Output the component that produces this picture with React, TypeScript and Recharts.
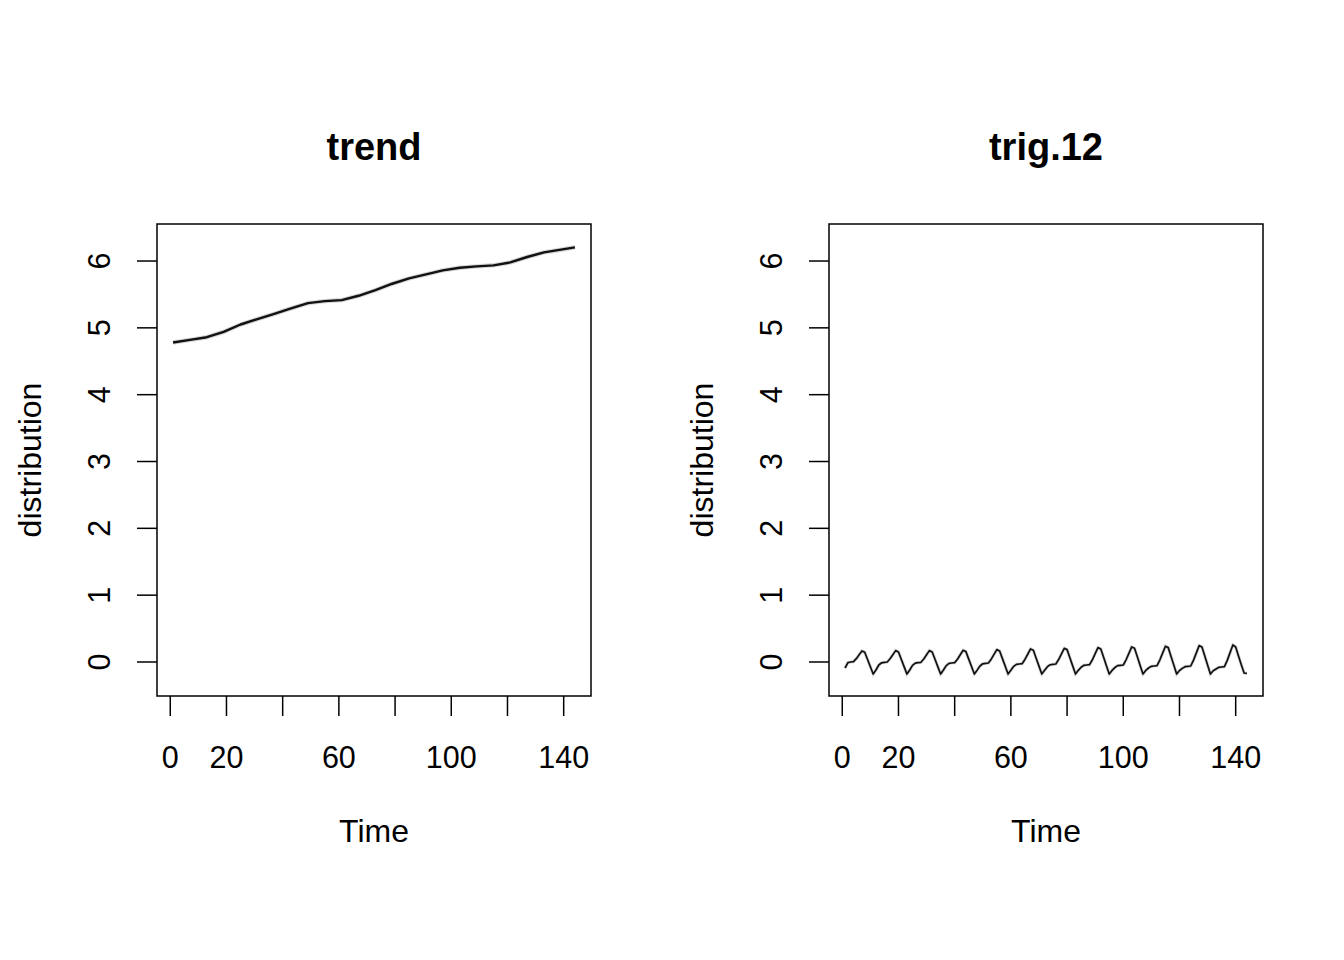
import React from 'react';
import { LineChart, Line, XAxis, YAxis, ReferenceArea } from 'recharts';

const FONT = '"Liberation Sans", Arial, Helvetica, sans-serif';

// Tick values / labels
const xTicks = [0, 20, 40, 60, 80, 100, 120, 140];
const xLabelShown = [0, 20, 60, 100, 140];
const yTicks = [0, 1, 2, 3, 4, 5, 6];
const panelTitles = ['trend', 'trig.12'];
const xTitle = 'Time';
const yTitle = 'distribution';

// Trend component
const trendTime = [1, 7, 13, 19, 25, 31, 37, 43, 49, 55, 61, 67, 73, 79, 85, 91, 97, 103, 109, 115, 121, 127, 133, 139, 144];
const trendValues = [4.78, 4.82, 4.86, 4.94, 5.05, 5.13, 5.21, 5.29, 5.37, 5.4, 5.415, 5.48, 5.565, 5.66, 5.74, 5.8, 5.86, 5.9, 5.92, 5.935, 5.98, 6.06, 6.13, 6.17, 6.205];

// Seasonal trig.12 component, months 1..144 (one row per year)
const trig12 = [
  -0.09, -0.01, 0.0, 0.005, 0.05, 0.107, 0.165, 0.145, 0.037, -0.072, -0.18, -0.12,
  -0.045, -0.012, -0.005, 0.0, 0.048, 0.109, 0.17, 0.15, 0.04, -0.07, -0.18, -0.12,
  -0.05, -0.017, -0.01, -0.005, 0.044, 0.107, 0.17, 0.15, 0.04, -0.07, -0.18, -0.12,
  -0.055, -0.022, -0.015, -0.01, 0.042, 0.109, 0.175, 0.155, 0.043, -0.068, -0.18, -0.122,
  -0.06, -0.027, -0.02, -0.015, 0.042, 0.113, 0.185, 0.165, 0.05, -0.065, -0.18, -0.123,
  -0.065, -0.036, -0.03, -0.025, 0.038, 0.116, 0.195, 0.175, 0.057, -0.062, -0.18, -0.124,
  -0.07, -0.041, -0.035, -0.03, 0.037, 0.121, 0.205, 0.185, 0.063, -0.058, -0.18, -0.125,
  -0.078, -0.05, -0.045, -0.04, 0.033, 0.124, 0.215, 0.195, 0.07, -0.055, -0.18, -0.126,
  -0.083, -0.055, -0.05, -0.045, 0.033, 0.129, 0.225, 0.205, 0.077, -0.052, -0.18, -0.127,
  -0.09, -0.065, -0.06, -0.055, 0.029, 0.132, 0.235, 0.215, 0.083, -0.048, -0.18, -0.128,
  -0.096, -0.07, -0.065, -0.06, 0.028, 0.137, 0.245, 0.225, 0.09, -0.045, -0.18, -0.13,
  -0.105, -0.08, -0.075, -0.07, 0.024, 0.14, 0.255, 0.225, 0.09, -0.04, -0.165, -0.17,
];

const trendData = trendTime.map((t, i) => ({ t, v: trendValues[i] }));
const trigData = trig12.map((v, i) => ({ t: i + 1, v }));

const X_DOMAIN: [number, number] = [-4.72, 149.72];
const Y_DOMAIN: [number, number] = [-0.509, 6.554];
const W = 672;
const H = 960;
const X_AXIS_H = 60;
const Y_AXIS_W = 60;

const XTick = (props: any) => {
  const { x, y, payload } = props;
  const v = payload.value;
  if (!xLabelShown.includes(v)) return <g />;
  return (
    <text x={x} y={y + 52} textAnchor="middle" fontSize={30.5} fontFamily={FONT} fill="#000">
      {v}
    </text>
  );
};

const YTick = (props: any) => {
  const { x, y, payload } = props;
  return (
    <g transform={`translate(${x - 27}, ${y}) rotate(-90)`}>
      <text x={0} y={0} textAnchor="middle" fontSize={30.5} fontFamily={FONT} fill="#000">
        {payload.value}
      </text>
    </g>
  );
};

const Panel = ({ data, thick }: { data: { t: number; v: number }[]; thick: boolean }) => (
  <LineChart
    width={W}
    height={H}
    data={data}
    margin={{ top: 224, right: 81, bottom: 264 - X_AXIS_H, left: 157 - Y_AXIS_W }}
  >
    <XAxis
      dataKey="t"
      type="number"
      domain={X_DOMAIN}
      ticks={xTicks}
      interval={0}
      allowDataOverflow
      axisLine={false}
      tickLine={{ stroke: '#000', strokeWidth: 1.5 }}
      tickSize={20}
      tickMargin={0}
      height={X_AXIS_H}
      tick={<XTick />}
    />
    <YAxis
      type="number"
      domain={Y_DOMAIN}
      ticks={yTicks}
      interval={0}
      allowDataOverflow
      axisLine={false}
      tickLine={{ stroke: '#000', strokeWidth: 1.5 }}
      tickSize={20}
      tickMargin={0}
      width={Y_AXIS_W}
      tick={<YTick />}
    />
    <ReferenceArea
      x1={X_DOMAIN[0]}
      x2={X_DOMAIN[1]}
      y1={Y_DOMAIN[0]}
      y2={Y_DOMAIN[1]}
      fill="none"
      fillOpacity={0}
      stroke="#000"
      strokeWidth={1.5}
      ifOverflow="visible"
    />
    <Line
      type="linear"
      dataKey="v"
      stroke="#999"
      strokeOpacity={0.4}
      strokeWidth={thick ? 4.5 : 3.2}
      dot={false}
      activeDot={false}
      isAnimationActive={false}
    />
    <Line
      type="linear"
      dataKey="v"
      stroke="#111"
      strokeWidth={thick ? 2.4 : 1.7}
      strokeLinejoin="round"
      dot={false}
      activeDot={false}
      isAnimationActive={false}
    />
  </LineChart>
);

export default function App() {
  const plotCx = 157 + 434 / 2;
  const plotCy = 224 + 472 / 2;
  return (
    <div style={{ position: 'absolute', left: 0, top: 0, width: 1344, height: 960, background: '#fff' }}>
      <div style={{ position: 'absolute', left: 0, top: 0 }}>
        <Panel data={trendData} thick={true} />
      </div>
      <div style={{ position: 'absolute', left: 672, top: 0 }}>
        <Panel data={trigData} thick={false} />
      </div>
      <svg
        width={1344}
        height={960}
        style={{ position: 'absolute', left: 0, top: 0, pointerEvents: 'none' }}
      >
        {panelTitles.map((title, i) => (
          <g key={title} fontFamily={FONT} fill="#000">
            <text x={plotCx + i * 672} y={160} textAnchor="middle" fontSize={38} fontWeight="bold">
              {title}
            </text>
            <text x={plotCx + i * 672} y={842} textAnchor="middle" fontSize={32}>
              {xTitle}
            </text>
            <g transform={`translate(${41 + i * 672}, ${plotCy}) rotate(-90)`}>
              <text x={0} y={0} textAnchor="middle" fontSize={32}>
                {yTitle}
              </text>
            </g>
          </g>
        ))}
      </svg>
    </div>
  );
}
